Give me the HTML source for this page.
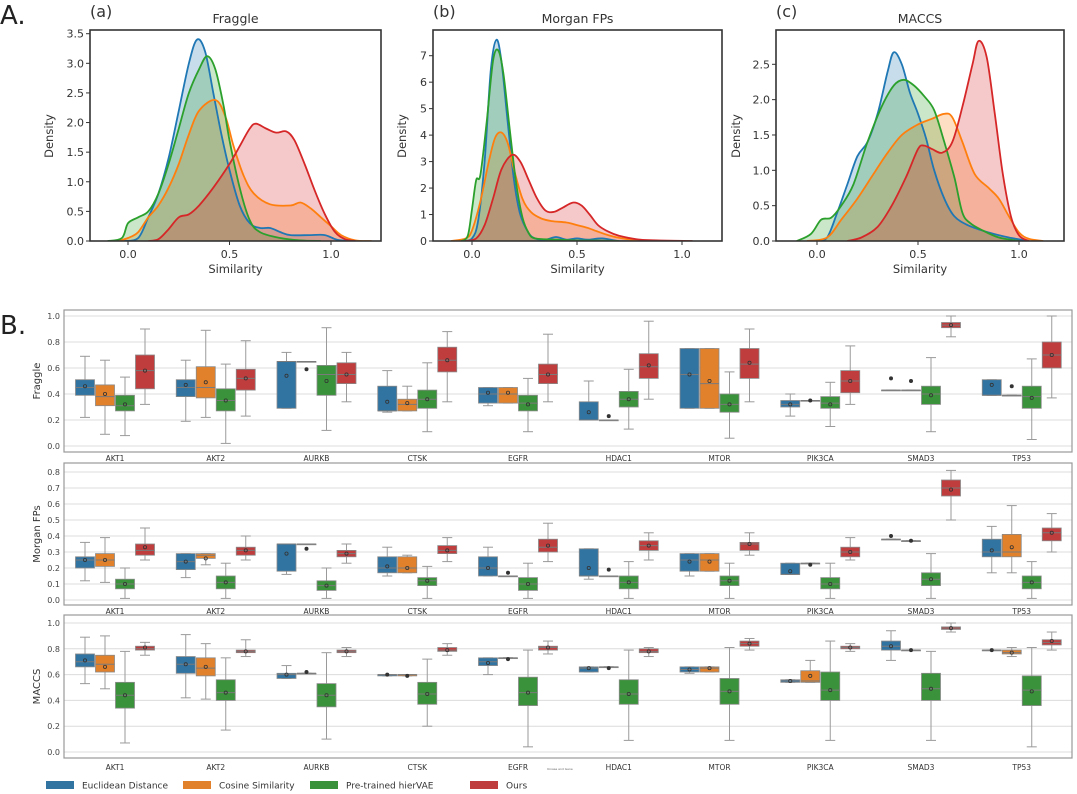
<!DOCTYPE html>
<html><head><meta charset="utf-8"><style>
html,body{margin:0;padding:0;background:#fff;}
svg{display:block;font-family:"DejaVu Sans","Liberation Sans",sans-serif;}
</style></head><body>
<svg id="fig" width="1077" height="794" viewBox="0 0 1077 794" xmlns="http://www.w3.org/2000/svg"></svg>
<script>
// ---------- Density data (panel A) ----------
const fragEucX=[-0.02,0.05,0.1,0.15,0.2,0.25,0.3,0.34,0.38,0.42,0.46,0.5,0.55,0.6,0.65,0.7,0.75,0.8,0.9,0.97,1.03,1.1];
const fragEucY=[0,0.05,0.4,0.8,1.4,2.2,3.0,3.4,3.2,2.5,1.8,1.2,0.6,0.3,0.22,0.22,0.15,0.1,0.1,0.1,0.02,0];
const fragCosX=[-0.05,0,0.05,0.1,0.15,0.2,0.25,0.3,0.35,0.43,0.48,0.52,0.57,0.62,0.7,0.8,0.85,0.9,0.95,1.0,1.05,1.12,1.2];
const fragCosY=[0,0.05,0.15,0.4,0.6,0.9,1.3,1.8,2.2,2.38,2.1,1.6,1.1,0.8,0.62,0.6,0.65,0.55,0.4,0.25,0.1,0.01,0];
const fragVaeX=[-0.1,-0.03,0,0.05,0.1,0.15,0.2,0.25,0.3,0.35,0.39,0.43,0.47,0.5,0.55,0.6,0.65,0.75,0.85,0.95];
const fragVaeY=[0,0.05,0.3,0.4,0.5,0.8,1.3,1.9,2.5,2.9,3.12,2.9,2.3,1.7,0.9,0.35,0.15,0.05,0.01,0];
const fragOursX=[0.1,0.15,0.2,0.25,0.3,0.35,0.42,0.5,0.55,0.6,0.63,0.68,0.73,0.78,0.82,0.87,0.92,0.97,1.02,1.07,1.12];
const fragOursY=[0,0.03,0.2,0.4,0.45,0.6,0.9,1.3,1.6,1.9,1.98,1.9,1.83,1.85,1.7,1.3,0.85,0.45,0.15,0.03,0];

const morgEucX=[-0.05,0,0.03,0.06,0.09,0.116,0.14,0.17,0.2,0.23,0.27,0.3,0.35,0.4,0.45,0.5,0.55,0.62,0.7,0.8];
const morgEucY=[0,0.1,0.8,3,6.5,7.6,6.8,4.5,2.3,1.0,0.3,0.1,0.05,0.15,0.05,0.1,0.05,0.1,0,0];
const morgCosX=[-0.1,-0.03,0,0.04,0.08,0.11,0.14,0.17,0.2,0.24,0.28,0.33,0.38,0.45,0.5,0.55,0.6,0.65,0.7,0.78,0.85];
const morgCosY=[0,0.1,0.4,1.5,3.0,3.9,4.1,3.7,2.7,1.6,1.1,0.85,0.75,0.7,0.6,0.5,0.35,0.22,0.12,0.03,0];
const morgVaeX=[-0.05,-0.02,0,0.02,0.04,0.07,0.1,0.125,0.15,0.18,0.21,0.24,0.27,0.3,0.4,0.5,0.6,0.7];
const morgVaeY=[0,0.2,1.2,2.3,2.5,4.5,6.8,7.2,6.3,4.2,2.2,0.9,0.3,0.1,0.05,0.02,0.02,0];
const morgOursX=[-0.03,0.02,0.06,0.1,0.14,0.19,0.23,0.27,0.31,0.35,0.39,0.43,0.48,0.52,0.56,0.6,0.65,0.7,0.8,0.9,1.05];
const morgOursY=[0,0.1,0.6,1.6,2.7,3.25,3.0,2.3,1.6,1.15,1.1,1.25,1.45,1.35,1.0,0.6,0.35,0.2,0.05,0.02,0];

const maccEucX=[0,0.05,0.1,0.15,0.2,0.25,0.3,0.35,0.38,0.42,0.46,0.5,0.54,0.58,0.63,0.68,0.75,0.85,0.95,1.05];
const maccEucY=[0,0.05,0.4,0.8,1.2,1.4,1.8,2.4,2.67,2.5,2.1,1.8,1.45,1.0,0.6,0.35,0.22,0.12,0.05,0];
const maccCosX=[-0.05,0.05,0.12,0.2,0.28,0.35,0.42,0.5,0.57,0.63,0.67,0.72,0.78,0.85,0.9,0.95,1.0,1.05,1.12];
const maccCosY=[0,0.05,0.3,0.6,0.95,1.25,1.5,1.65,1.73,1.8,1.75,1.4,0.95,0.75,0.6,0.35,0.12,0.03,0];
const maccVaeX=[-0.1,-0.03,0.02,0.07,0.12,0.18,0.25,0.32,0.38,0.43,0.48,0.53,0.58,0.63,0.68,0.72,0.76,0.82,0.9,1.0];
const maccVaeY=[0,0.1,0.3,0.33,0.5,0.8,1.4,1.9,2.2,2.28,2.2,2.05,1.85,1.4,0.9,0.4,0.25,0.15,0.05,0];
const maccOursX=[0.15,0.22,0.3,0.37,0.44,0.5,0.53,0.57,0.62,0.67,0.72,0.77,0.8,0.84,0.88,0.92,0.96,1.0,1.05];
const maccOursY=[0,0.05,0.2,0.5,0.9,1.3,1.35,1.3,1.25,1.4,1.9,2.5,2.83,2.6,1.8,0.95,0.35,0.08,0];

const densTicksA=[0,0.5,1.0,1.5,2.0,2.5,3.0,3.5];
const densTicksB=[0,1,2,3,4,5,6,7];
const densTicksC=[0,0.5,1.0,1.5,2.0,2.5];
const simTicks=[0.0,0.5,1.0];

// ---------- Box plot data (panel B) : per gene [Euclid, Cosine, hierVAE, Ours] ----------
const genes=["AKT1","AKT2","AURKB","CTSK","EGFR","HDAC1","MTOR","PIK3CA","SMAD3","TP53"];
const fragQ1=[[.39,.31,.27,.44],[.38,.37,.27,.43],[.29,.65,.39,.48],[.27,.27,.29,.57],[.33,.33,.27,.48],[.20,.20,.30,.52],[.29,.29,.26,.52],[.30,.35,.29,.41],[.43,.43,.32,.91],[.39,.39,.29,.60]];
const fragQ3=[[.51,.47,.39,.70],[.51,.61,.44,.59],[.65,.65,.62,.64],[.46,.36,.43,.76],[.45,.45,.39,.63],[.34,.20,.42,.71],[.75,.75,.40,.75],[.35,.35,.38,.58],[.43,.43,.46,.95],[.51,.39,.46,.80]];
const fragMed=[[.45,.38,.31,.58],[.45,.45,.35,.52],[.65,.65,.55,.55],[.27,.32,.36,.66],[.40,.40,.33,.55],[.20,.20,.36,.61],[.55,.48,.32,.63],[.32,.35,.33,.50],[.43,.43,.40,.93],[.39,.39,.38,.70]];
const fragLo=[[.22,.09,.08,.32],[.19,.22,.02,.23],[.29,.65,.12,.34],[.26,.27,.11,.34],[.31,.33,.11,.34],[.20,.20,.13,.36],[.29,.29,.06,.34],[.23,.35,.15,.32],[.43,.43,.11,.84],[.39,.39,.05,.37]];
const fragHi=[[.69,.66,.53,.90],[.66,.89,.63,.81],[.72,.65,.91,.72],[.58,.46,.64,.88],[.45,.45,.52,.86],[.50,.20,.59,.96],[.75,.75,.57,.90],[.40,.35,.49,.77],[.43,.43,.68,1.0],[.51,.39,.67,1.0]];
const fragMean=[[.46,.40,.32,.58],[.47,.49,.35,.52],[.54,.59,.50,.55],[.34,.33,.36,.66],[.41,.41,.32,.55],[.26,.23,.36,.62],[.55,.50,.32,.64],[.32,.35,.32,.50],[.52,.50,.39,.93],[.47,.46,.37,.70]];

const morgQ1=[[.20,.21,.07,.28],[.19,.26,.07,.28],[.18,.35,.06,.27],[.17,.17,.09,.29],[.15,.15,.06,.30],[.15,.15,.07,.31],[.18,.18,.09,.31],[.16,.23,.07,.27],[.38,.37,.09,.65],[.27,.27,.07,.37]];
const morgQ3=[[.27,.29,.13,.35],[.29,.29,.15,.33],[.35,.35,.12,.31],[.27,.27,.14,.34],[.27,.15,.14,.38],[.32,.15,.15,.37],[.29,.29,.15,.36],[.23,.23,.14,.33],[.38,.37,.17,.75],[.38,.41,.15,.45]];
const morgMed=[[.25,.25,.10,.31],[.24,.28,.11,.31],[.35,.35,.09,.29],[.20,.20,.12,.31],[.20,.15,.10,.33],[.15,.15,.11,.34],[.25,.25,.12,.35],[.16,.23,.10,.30],[.38,.37,.13,.70],[.30,.30,.11,.42]];
const morgLo=[[.12,.11,.01,.25],[.14,.22,.01,.25],[.16,.35,.01,.23],[.15,.17,.01,.24],[.15,.15,.01,.24],[.13,.15,.01,.25],[.15,.18,.01,.28],[.16,.23,.01,.25],[.38,.37,.01,.50],[.17,.17,.01,.30]];
const morgHi=[[.36,.39,.20,.45],[.29,.29,.23,.40],[.35,.35,.20,.35],[.33,.28,.21,.39],[.33,.15,.23,.48],[.32,.15,.24,.42],[.29,.29,.23,.42],[.23,.23,.23,.39],[.38,.37,.29,.81],[.46,.59,.24,.54]];
const morgMean=[[.25,.25,.10,.33],[.24,.26,.11,.31],[.29,.32,.09,.29],[.21,.20,.12,.31],[.20,.17,.10,.34],[.20,.19,.11,.34],[.24,.24,.12,.35],[.18,.22,.10,.30],[.40,.37,.13,.69],[.31,.33,.11,.42]];

const maccQ1=[[.66,.62,.34,.79],[.61,.59,.40,.77],[.57,.61,.35,.77],[.59,.59,.37,.78],[.67,.73,.36,.79],[.62,.66,.37,.77],[.62,.62,.37,.82],[.54,.54,.40,.80],[.79,.79,.40,.95],[.79,.76,.36,.83]];
const maccQ3=[[.76,.75,.54,.82],[.74,.73,.56,.79],[.61,.61,.53,.79],[.60,.60,.54,.81],[.73,.73,.58,.82],[.66,.66,.56,.80],[.66,.66,.57,.86],[.56,.63,.62,.82],[.86,.79,.61,.97],[.79,.79,.59,.87]];
const maccMed=[[.70,.68,.44,.80],[.68,.65,.46,.78],[.60,.61,.44,.78],[.60,.60,.45,.79],[.70,.73,.46,.81],[.65,.66,.45,.78],[.64,.65,.47,.84],[.55,.55,.48,.81],[.82,.79,.49,.96],[.79,.77,.48,.85]];
const maccLo=[[.53,.49,.07,.75],[.42,.41,.17,.74],[.57,.61,.10,.74],[.59,.59,.20,.75],[.60,.73,.04,.76],[.62,.66,.09,.74],[.61,.62,.09,.79],[.54,.54,.09,.78],[.71,.79,.09,.93],[.79,.74,.04,.79]];
const maccHi=[[.89,.90,.78,.85],[.91,.84,.73,.87],[.67,.61,.77,.81],[.60,.60,.72,.84],[.73,.73,.79,.86],[.66,.66,.79,.81],[.66,.66,.81,.88],[.56,.71,.86,.84],[.94,.79,.78,1.0],[.79,.81,.81,.93]];
const maccMean=[[.71,.66,.44,.81],[.68,.66,.46,.78],[.60,.62,.44,.78],[.60,.59,.45,.79],[.69,.72,.46,.81],[.65,.65,.45,.78],[.64,.65,.47,.84],[.55,.59,.48,.81],[.82,.79,.49,.96],[.79,.77,.47,.86]];

const fragTicks=[0.0,0.2,0.4,0.6,0.8,1.0];
const morgTicks=[0.0,0.1,0.2,0.3,0.4,0.5,0.6,0.7,0.8];
const maccTicks=[0.0,0.2,0.4,0.6,0.8,1.0];
const methods=["Euclidean Distance","Cosine Similarity","Pre-trained hierVAE","Ours"];

const NS="http://www.w3.org/2000/svg";
const svg=document.getElementById('fig');
function mk(tag,attrs,parent,txt){const e=document.createElementNS(NS,tag);for(const k in attrs)e.setAttribute(k,attrs[k]);if(txt!==undefined)e.textContent=txt;(parent||svg).appendChild(e);return e;}

const lineCol=["#1f77b4","#ff7f0e","#2ca02c","#d62728"];
const boxCol=["#3274a1","#e1812c","#3a923a","#c03d3e"];
const slug=["euclidean","cosine","hiervae","ours"];

function smoothPath(pts){
  let d="M"+pts[0][0].toFixed(1)+","+pts[0][1].toFixed(1);
  for(let i=0;i<pts.length-1;i++){
    const p0=pts[Math.max(0,i-1)],p1=pts[i],p2=pts[i+1],p3=pts[Math.min(pts.length-1,i+2)];
    const c1x=p1[0]+(p2[0]-p0[0])/6,c1y=p1[1]+(p2[1]-p0[1])/6;
    const c2x=p2[0]-(p3[0]-p1[0])/6,c2y=p2[1]-(p3[1]-p1[1])/6;
    d+=" C"+c1x.toFixed(1)+","+c1y.toFixed(1)+" "+c2x.toFixed(1)+","+c2y.toFixed(1)+" "+p2[0].toFixed(1)+","+p2[1].toFixed(1);
  }
  return d;
}

let t;
t=mk('text',{x:0,y:24,'font-size':26,fill:'#222'},svg,'A.');


t=mk('text',{x:0,y:334,'font-size':26,fill:'#222'},svg,'B.');



// ---------- Density panels ----------
const densPanels=[
 {name:'fraggle',letter:'(a)',title:'Fraggle',L:90,R:381,x0:128,x1:331,ymax:3.5,ymaxPx:33.7,ticks:densTicksA,fmt:v=>v.toFixed(1),ylab:53,
  series:[[fragEucX,fragEucY],[fragCosX,fragCosY],[fragVaeX,fragVaeY],[fragOursX,fragOursY]]},
 {name:'morgan',letter:'(b)',title:'Morgan FPs',L:433,R:722,x0:472,x1:682,ymax:7,ymaxPx:55.7,ticks:densTicksB,fmt:v=>String(v),ylab:406,
  series:[[morgEucX,morgEucY],[morgCosX,morgCosY],[morgVaeX,morgVaeY],[morgOursX,morgOursY]]},
 {name:'maccs',letter:'(c)',title:'MACCS',L:776,R:1064,x0:817,x1:1019,ymax:2.5,ymaxPx:64.3,ticks:densTicksC,fmt:v=>v.toFixed(1),ylab:740,
  series:[[maccEucX,maccEucY],[maccCosX,maccCosY],[maccVaeX,maccVaeY],[maccOursX,maccOursY]]}
];
const dTop=30,dBot=241;
densPanels.forEach(p=>{
  const g=mk('g',{});
  
  
  const sx=v=>p.x0+(p.x1-p.x0)*v;
  const sy=v=>dBot-(dBot-p.ymaxPx)*v/p.ymax;
  mk('clipPath',{id:'clip-'+p.name},g);
  mk('rect',{x:p.L,y:dTop,width:p.R-p.L,height:dBot-dTop},g.lastChild);
  const sg=mk('g',{'clip-path':'url(#clip-'+p.name+')'},g);
  p.series.forEach((s,k)=>{
    const pts=s[0].map((x,i)=>[sx(x),sy(s[1][i])]);
    const d=smoothPath(pts);
    const f=mk('path',{d:d+" L"+pts[pts.length-1][0].toFixed(1)+","+dBot+" L"+pts[0][0].toFixed(1)+","+dBot+" Z",fill:lineCol[k],'fill-opacity':0.25,stroke:'none'},sg);
    
    
  });
  p.series.forEach((s,k)=>{
    const pts=s[0].map((x,i)=>[sx(x),sy(s[1][i])]);
    const l=mk('path',{d:smoothPath(pts),fill:'none',stroke:lineCol[k],'stroke-width':1.8},sg);
    
    
  });
  const fr=mk('rect',{x:p.L,y:dTop,width:p.R-p.L,height:dBot-dTop,fill:'none',stroke:'#333','stroke-width':1.6},g);
  
  
  p.ticks.forEach(v=>{
    const y=sy(v);
    mk('line',{x1:p.L-4,x2:p.L,y1:y,y2:y,stroke:'#333','stroke-width':1},g);
    const tl=mk('text',{x:p.L-6,y:y+4,'font-size':11,'text-anchor':'end',fill:'#333'},g,p.fmt(v));
    
    
  });
  simTicks.forEach(v=>{
    const x=sx(v);
    mk('line',{x1:x,x2:x,y1:dBot,y2:dBot+4,stroke:'#333','stroke-width':1},g);
    const tl=mk('text',{x:x,y:dBot+17,'font-size':11,'text-anchor':'middle',fill:'#333'},g,v.toFixed(1));
    
    
  });
  const cx=(p.L+p.R)/2;
  let e=mk('text',{x:cx,y:273,'font-size':11.5,'text-anchor':'middle',fill:'#333'},g,'Similarity');
  
  
  e=mk('text',{x:p.ylab,y:136,'font-size':11.5,'text-anchor':'middle',fill:'#333',transform:'rotate(-90 '+p.ylab+' 136)'},g,'Density');
  
  
  e=mk('text',{x:cx,y:23,'font-size':12.5,'text-anchor':'middle',fill:'#333'},g,p.title);
  
  
  e=mk('text',{x:p.L,y:17,'font-size':16,fill:'#333'},g,p.letter);
  
  
});

// ---------- Box plot panels ----------
const boxPanels=[
 {name:'fraggle',label:'Fraggle',top:310,bot:452,zero:446,scale:130,ticks:fragTicks,q1:fragQ1,q3:fragQ3,med:fragMed,lo:fragLo,hi:fragHi,mean:fragMean,glab:461},
 {name:'morgan',label:'Morgan FPs',top:463,bot:605,zero:600,scale:160,ticks:morgTicks,q1:morgQ1,q3:morgQ3,med:morgMed,lo:morgLo,hi:morgHi,mean:morgMean,glab:614},
 {name:'maccs',label:'MACCS',top:615,bot:758,zero:752,scale:129,ticks:maccTicks,q1:maccQ1,q3:maccQ3,med:maccMed,lo:maccLo,hi:maccHi,mean:maccMean,glab:770}
];
const bL=64,bR=1072,g0=115,gStep=100.75,offs=[-30,-10,10,30],bw=19;
boxPanels.forEach(p=>{
  const g=mk('g',{});
  
  
  const sy=v=>p.zero-p.scale*v;
  p.ticks.forEach(v=>{
    const y=sy(v);
    const gl=mk('line',{x1:bL,x2:bR,y1:y,y2:y,stroke:'#dcdcdc','stroke-width':1},g);
    
    
    const tl=mk('text',{x:bL-4,y:y+3,'font-size':8,'text-anchor':'end',fill:'#444'},g,v.toFixed(1));
    
    
  });
  const fr=mk('rect',{x:bL,y:p.top,width:bR-bL,height:p.bot-p.top,fill:'none',stroke:'#999','stroke-width':1.2},g);
  
  
  const yl=mk('text',{x:40,y:(p.top+p.bot)/2,'font-size':10,'text-anchor':'middle',fill:'#333',transform:'rotate(-90 40 '+((p.top+p.bot)/2)+')'},g,p.label);
  
  
  genes.forEach((gn,i)=>{
    const gc=g0+gStep*i;
    const gl=mk('text',{x:gc,y:p.glab,'font-size':7.5,'text-anchor':'middle',fill:'#333'},g,gn);
    
    
    for(let k=0;k<4;k++){
      const cx=gc+offs[k];
      const bg=mk('g',{},g);
      
      
      const yq1=sy(p.q1[i][k]),yq3=sy(p.q3[i][k]),ylo=sy(p.lo[i][k]),yhi=sy(p.hi[i][k]),ym=sy(p.med[i][k]),ymn=sy(p.mean[i][k]);
      mk('line',{x1:cx,x2:cx,y1:yq3,y2:yhi,stroke:'#9a9a9a','stroke-width':1},bg);
      mk('line',{x1:cx,x2:cx,y1:yq1,y2:ylo,stroke:'#9a9a9a','stroke-width':1},bg);
      mk('line',{x1:cx-5,x2:cx+5,y1:yhi,y2:yhi,stroke:'#9a9a9a','stroke-width':1},bg);
      mk('line',{x1:cx-5,x2:cx+5,y1:ylo,y2:ylo,stroke:'#9a9a9a','stroke-width':1},bg);
      const h=Math.max(yq1-yq3,0.8);
      mk('rect',{x:cx-bw/2,y:yq3,width:bw,height:h,fill:boxCol[k],stroke:'#8a8a8a','stroke-width':0.8},bg);
      mk('line',{x1:cx-bw/2,x2:cx+bw/2,y1:ym,y2:ym,stroke:'#7a7a7a','stroke-width':1},bg);
      mk('circle',{cx:cx,cy:ymn,r:1.6,fill:(yq1-yq3<2?'#333':'none'),stroke:'#333','stroke-width':0.8},bg);
    }
  });
});
t=mk('text',{x:560,y:770,'font-size':3,'text-anchor':'middle',fill:'#666'},svg,'Kinase and Gene');



// ---------- Legend ----------
const legX=[46,183,310,470];
const lg=mk('g',{});


methods.forEach((m,k)=>{
  const eg=mk('g',{},lg);
  
  
  mk('rect',{x:legX[k],y:781,width:28,height:8,fill:boxCol[k]},eg);
  mk('text',{x:legX[k]+36,y:788.5,'font-size':9,fill:'#333'},eg,m);
});
</script>
</body></html>
